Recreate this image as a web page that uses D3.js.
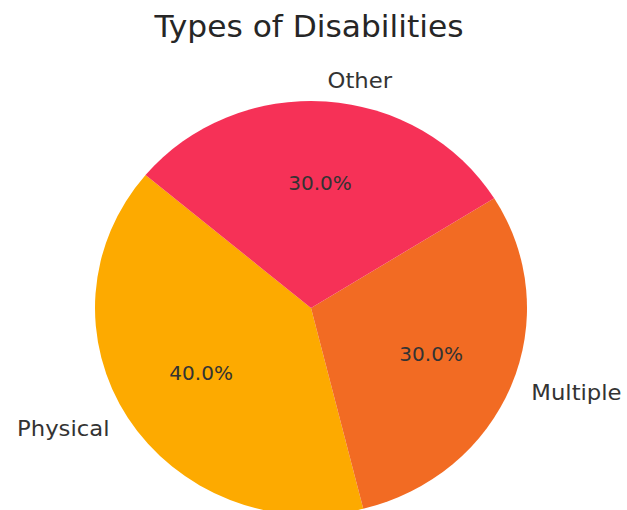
<!DOCTYPE html>
<html>
<head>
<meta charset="utf-8">
<script src="https://cdn.jsdelivr.net/npm/d3@7"></script>
<style>
  html, body { margin: 0; padding: 0; background: #ffffff; }
  svg { display: block; }
  text { font-family: "DejaVu Sans", sans-serif; }
</style>
</head>
<body>
<svg id="chart" width="627" height="510"></svg>
<script>
// Data
const categories = ["Physical", "Multiple", "Other"];
const values = [40, 30, 30];
const colors = ["#fdaa00", "#f26b23", "#f63157"];
const title = "Types of Disabilities";

// Layout (reference is slightly stretched horizontally)
const W = 627, H = 510;
const sx = 216 / 207;
const cx = 311 / sx, cy = 308, R = 207;
const startDeg = 140; // matplotlib startangle, counterclockwise

const svg = d3.select("#chart");
const g = svg.append("g").attr("transform", `scale(${sx},1)`);

g.append("text")
  .attr("x", 309 / sx).attr("y", 37)
  .attr("text-anchor", "middle")
  .attr("font-size", 30)
  .attr("fill", "#262626")
  .text(title);

const a0 = (90 - startDeg) * Math.PI / 180;
const pie = d3.pie().sort(null).startAngle(a0).endAngle(a0 - 2 * Math.PI);
const arcs = pie(values);
const arc = d3.arc().innerRadius(0).outerRadius(R);

const pg = g.append("g").attr("transform", `translate(${cx},${cy})`);

pg.selectAll("path.slice").data(arcs).join("path")
  .attr("class", "slice")
  .attr("d", arc)
  .attr("fill", (d, i) => colors[i]);

const total = d3.sum(values);

// category labels at 1.1 R
pg.selectAll("text.lab").data(arcs).join("text")
  .attr("class", "lab")
  .each(function (d, i) {
    const m = (d.startAngle + d.endAngle) / 2;
    const x = 1.1 * R * Math.sin(m), y = -1.1 * R * Math.cos(m);
    d3.select(this)
      .attr("x", x).attr("y", y).attr("dy", "0.33em")
      .attr("text-anchor", x > 0 ? "start" : "end")
      .attr("font-size", 21.8)
      .attr("fill", "#333333")
      .text(categories[i]);
  });

// percentage labels at 0.6 R
pg.selectAll("text.pct").data(arcs).join("text")
  .attr("class", "pct")
  .each(function (d, i) {
    const m = (d.startAngle + d.endAngle) / 2;
    const x = 0.6 * R * Math.sin(m), y = -0.6 * R * Math.cos(m);
    d3.select(this)
      .attr("x", x).attr("y", y).attr("dy", "0.33em")
      .attr("text-anchor", "middle")
      .attr("font-size", 19.2)
      .attr("fill", "#333333")
      .text((values[i] / total * 100).toFixed(1) + "%");
  });
</script>
</body>
</html>
